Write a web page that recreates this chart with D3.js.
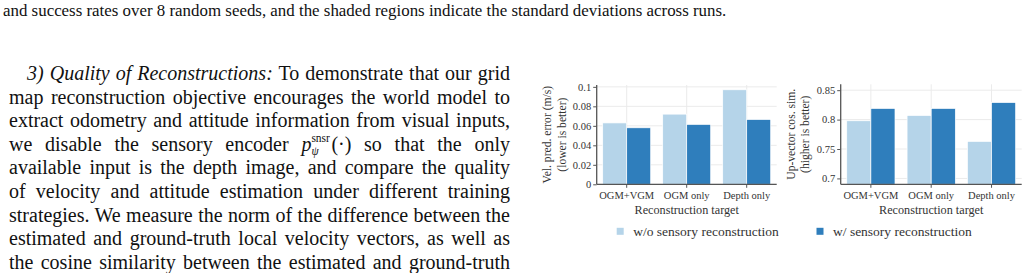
<!DOCTYPE html>
<html>
<head>
<meta charset="utf-8">
<script src="https://cdn.jsdelivr.net/npm/d3@7"></script>
<style>
  body { margin: 0; background: #fff; width: 1028px; height: 273px; overflow: hidden; position: relative; font-family: "Liberation Serif", serif; color: #111; }
  .caption { position: absolute; left: 3px; top: 1px; font-size: 16.9px; white-space: nowrap; }
  .para { position: absolute; left: 9px; top: 62px; width: 501px; font-size: 20px; }
  .para div { height: 23.6px; line-height: 23.6px; text-align: justify; text-align-last: justify; overflow: visible; }
  .para div.first { padding-left: 18px; }
  .scr { position: relative; display: inline-block; width: 20px; height: 10px; line-height: 0; }
  .scr span { position: absolute; left: 0; font-size: 11.5px; line-height: 1; }
  #chart { position: absolute; left: 0; top: 0; }
</style>
</head>
<body>
<div class="caption">and success rates over 8 random seeds, and the shaded regions indicate the standard deviations across runs.</div>
<div class="para">
  <div class="first"><i>3) Quality of Reconstructions:</i> To demonstrate that our grid</div>
  <div>map reconstruction objective encourages the world model to</div>
  <div>extract odometry and attitude information from visual inputs,</div>
  <div>we disable the sensory encoder <i>p</i><span class="scr"><span style="top:-8px">snsr</span><span style="top:5px"><i>ψ</i></span></span>(·) so that the only</div>
  <div>available input is the depth image, and compare the quality</div>
  <div>of velocity and attitude estimation under different training</div>
  <div>strategies. We measure the norm of the difference between the</div>
  <div>estimated and ground-truth local velocity vectors, as well as</div>
  <div>the cosine similarity between the estimated and ground-truth</div>
</div>
<svg id="chart" width="1028" height="273"></svg>
<script>
const categories = ["OGM+VGM", "OGM only", "Depth only"];
const seriesNames = ["w/o sensory reconstruction", "w/ sensory reconstruction"];
const velWithout = [0.063, 0.072, 0.097];
const velWith = [0.058, 0.0615, 0.0665];
const cosWithout = [0.798, 0.807, 0.763];
const cosWith = [0.819, 0.819, 0.829];
const velTicks = [0, 0.02, 0.04, 0.06, 0.08, 0.1];
const cosTicks = [0.7, 0.75, 0.8, 0.85];
const colors = ["#b5d4e9", "#2f7ebc"];

const svg = d3.select("#chart");
const font = "Liberation Serif";

function drawPanel(opts) {
    const x = d3.scaleBand().domain(categories).range([opts.left, opts.right])
        .paddingInner(0.2).paddingOuter(0.1);
    const inner = d3.scaleBand().domain([0, 1]).range([0, x.bandwidth()]);
    const y = d3.scaleLinear().domain(opts.domain).range([opts.bottom, opts.top]);
    const g = svg.append("g");

    // grid
    g.selectAll(".hgrid").data(opts.ticks).enter().append("line")
        .attr("x1", opts.left).attr("x2", opts.right)
        .attr("y1", d => y(d)).attr("y2", d => y(d))
        .attr("stroke", "#ebebeb").attr("stroke-width", 1);
    g.selectAll(".vgrid").data(categories).enter().append("line")
        .attr("x1", d => x(d) + x.bandwidth() / 2).attr("x2", d => x(d) + x.bandwidth() / 2)
        .attr("y1", opts.top).attr("y2", opts.bottom)
        .attr("stroke", "#ebebeb").attr("stroke-width", 1);

    // bars
    const rows = categories.map((c, i) => ({ c, v: [opts.without[i], opts.with[i]] }));
    g.selectAll(".grp").data(rows).enter().append("g")
        .attr("transform", d => `translate(${x(d.c)},0)`)
        .selectAll("rect").data(d => d.v).enter().append("rect")
        .attr("x", (d, i) => inner(i))
        .attr("width", inner.bandwidth())
        .attr("y", d => y(d))
        .attr("height", d => opts.bottom - y(d))
        .attr("fill", (d, i) => colors[i])
        .attr("stroke", "#fff").attr("stroke-width", 0.7);

    // axes
    const yAxis = d3.axisLeft(y).tickValues(opts.ticks).tickSize(3.5).tickPadding(2)
        .tickFormat(d => String(+d.toFixed(3)));
    const ya = g.append("g").attr("transform", `translate(${opts.left},0)`).call(yAxis);
    const xAxis = d3.axisBottom(x).tickSize(3.5).tickPadding(4);
    const xa = g.append("g").attr("transform", `translate(0,${opts.bottom})`).call(xAxis);
    [ya, xa].forEach(a => {
        a.select(".domain").attr("stroke", "#555").attr("stroke-width", 1.3);
        a.selectAll(".tick line").attr("stroke", "#555");
        a.selectAll("text").attr("fill", "#333").attr("font-family", font).attr("font-size", 10.5);
    });
    ya.select(".domain").attr("d", `M0,${opts.bottom}V${opts.top}`);
    xa.select(".domain").attr("d", `M${opts.left},0H${opts.right}`);

    g.append("text")
        .attr("x", (opts.left + opts.right) / 2).attr("y", 214)
        .attr("text-anchor", "middle")
        .attr("font-family", font).attr("font-size", 12.2).attr("fill", "#333")
        .text("Reconstruction target");

    const cy = (opts.top + opts.bottom) / 2;
    opts.ylabel.forEach((t, i) => {
        const lx = opts.ylabelX + i * 14.5;
        g.append("text")
            .attr("transform", `translate(${lx},${cy}) rotate(-90)`)
            .attr("text-anchor", "middle")
            .attr("font-family", font).attr("font-size", 11.6).attr("fill", "#333")
            .text(t);
    });
}

drawPanel({
    left: 596.7, right: 776.7, top: 85, bottom: 184.3,
    domain: [0, 0.1019], ticks: velTicks,
    without: velWithout, with: velWith,
    ylabel: ["Vel. pred. error (m/s)", "(lower is better)"], ylabelX: 551
});
drawPanel({
    left: 840.7, right: 1021.7, top: 84.3, bottom: 184.3,
    domain: [0.69, 0.86], ticks: cosTicks,
    without: cosWithout, with: cosWith,
    ylabel: ["Up-vector cos. sim.", "(higher is better)"], ylabelX: 794.5
});

// legend
const legendX = [616.7, 816.5];
const leg = svg.append("g");
seriesNames.forEach((name, i) => {
    leg.append("rect").attr("x", legendX[i]).attr("y", 227.8)
        .attr("width", 7).attr("height", 7).attr("fill", colors[i]);
    leg.append("text").attr("x", legendX[i] + 16.5).attr("y", 235.5)
        .attr("font-family", font).attr("font-size", 13.5).attr("fill", "#333")
        .text(name);
});
</script>
</body>
</html>
